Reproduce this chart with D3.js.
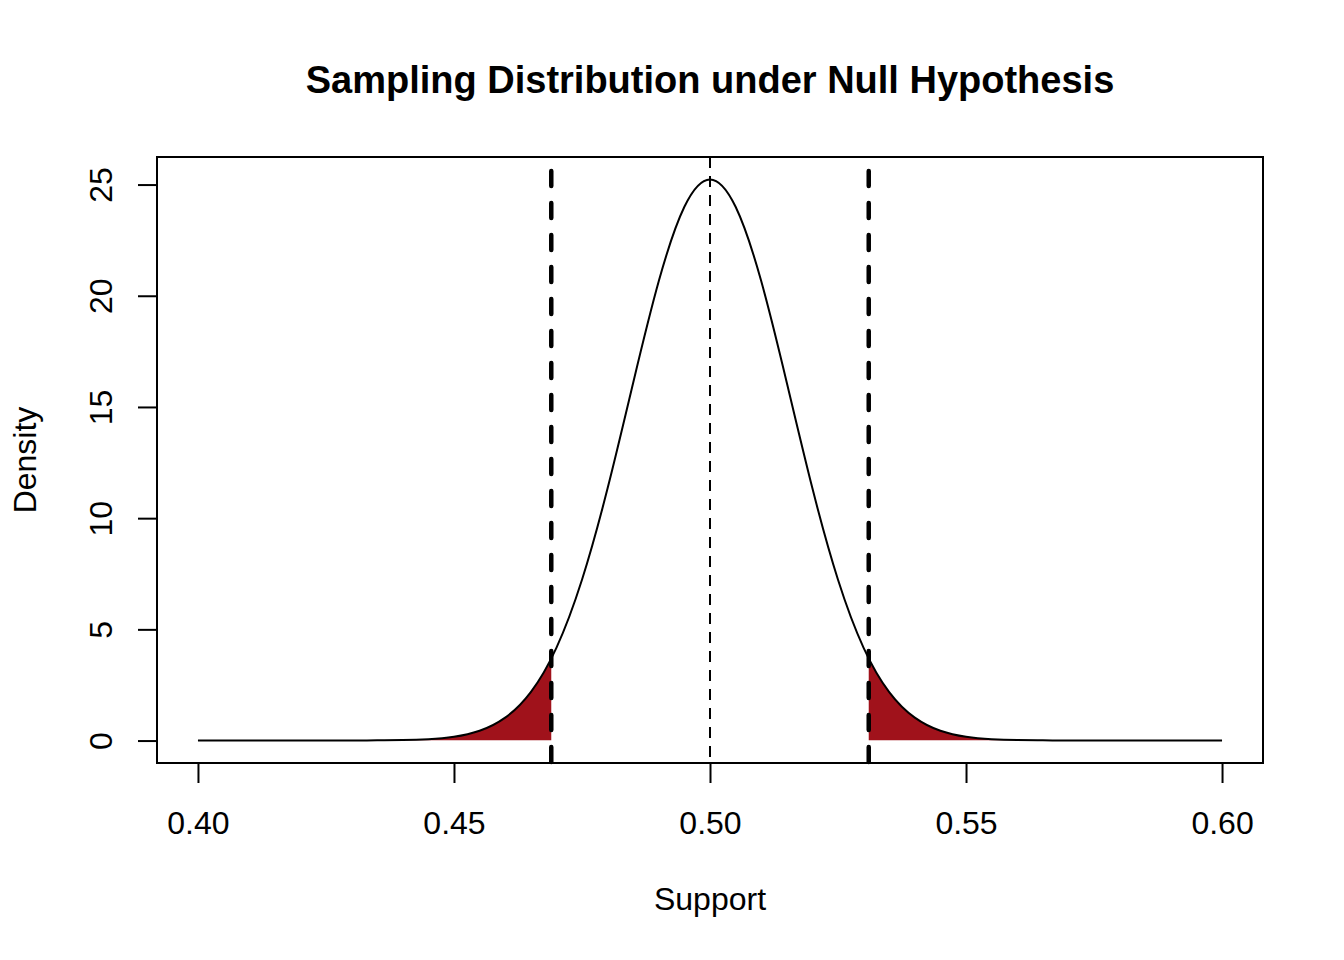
<!DOCTYPE html>
<html>
<head>
<meta charset="utf-8">
<script src="https://cdn.jsdelivr.net/npm/d3@7"></script>
<style>
  html, body { margin: 0; padding: 0; background: #fff; }
  svg { display: block; font-family: "Liberation Sans", Arial, Helvetica, sans-serif; }
</style>
</head>
<body>
<svg id="chart" width="1344" height="960"></svg>
<script>
// ---- Data ----
const supportValues = [0.400,0.405,0.410,0.415,0.420,0.425,0.430,0.435,0.440,0.445,
                       0.450,0.455,0.460,0.465,0.470,0.475,0.480,0.485,0.490,0.495,
                       0.500,0.505,0.510,0.515,0.520,0.525,0.530,0.535,0.540,0.545,
                       0.550,0.555,0.560,0.565,0.570,0.575,0.580,0.585,0.590,0.595,0.600];
const densityValues = [0,0,0,0,0,0,0,0.01,0.02,0.06,
                       0.17,0.44,1.03,2.18,4.17,7.23,11.34,16.09,20.66,24.00,
                       25.23,24.00,20.66,16.09,11.34,7.23,4.17,2.18,1.03,0.44,
                       0.17,0.06,0.02,0.01,0,0,0,0,0,0,0];
const criticalValues = [0.469, 0.531];
const criticalLineTop = 25.7;
const nullMean = 0.5;
const xTicks = [0.40, 0.45, 0.50, 0.55, 0.60];
const xTickLabels = ["0.40", "0.45", "0.50", "0.55", "0.60"];
const yTicks = [0, 5, 10, 15, 20, 25];
const yTickLabels = ["0", "5", "10", "15", "20", "25"];
const titleText = "Sampling Distribution under Null Hypothesis";
const xLabel = "Support";
const yLabel = "Density";

// ---- Layout ----
const svg = d3.select("#chart");
const box = { left: 157, right: 1263, top: 157, bottom: 763 };

const xMin = d3.min(supportValues), xMax = d3.max(supportValues);
const xPad = (xMax - xMin) * 0.04;
const yMin = 0, yMax = d3.max(densityValues);
const yPad = (yMax - yMin) * 0.04;

const x = d3.scaleLinear().domain([xMin - xPad, xMax + xPad]).range([box.left, box.right]);
const y = d3.scaleLinear().domain([yMin - yPad, yMax + yPad]).range([box.bottom, box.top]);

const pts = supportValues.map((s, i) => ({ s, d: densityValues[i] }));
const curve = d3.curveNatural;

// clip paths for the rejection regions
const defs = svg.append("defs");
const cpL = defs.append("clipPath").attr("id", "clipL");
cpL.append("rect").attr("x", x(xMin - xPad)).attr("y", box.top)
  .attr("width", x(criticalValues[0]) - x(xMin - xPad)).attr("height", y(0) - box.top);
const cpR = defs.append("clipPath").attr("id", "clipR");
cpR.append("rect").attr("x", x(criticalValues[1])).attr("y", box.top)
  .attr("width", x(xMax + xPad) - x(criticalValues[1])).attr("height", y(0) - box.top);

const area = d3.area().x(p => x(p.s)).y0(y(0)).y1(p => y(p.d)).curve(curve);
const fillColor = "#A0121B";
svg.append("path").datum(pts).attr("d", area).attr("fill", fillColor).attr("clip-path", "url(#clipL)");
svg.append("path").datum(pts).attr("d", area).attr("fill", fillColor).attr("clip-path", "url(#clipR)");

// density curve
const line = d3.line().x(p => x(p.s)).y(p => y(p.d)).curve(curve);
svg.append("path").datum(pts).attr("d", line)
  .attr("fill", "none").attr("stroke", "#000").attr("stroke-width", 2);

// null mean line (thin dashed, full height)
svg.append("line")
  .attr("x1", x(nullMean)).attr("x2", x(nullMean))
  .attr("y1", box.top).attr("y2", box.bottom)
  .attr("stroke", "#000").attr("stroke-width", 2).attr("stroke-dasharray", "11,8");

// critical value lines (thick dashed)
criticalValues.forEach(c => {
  svg.append("line")
    .attr("x1", x(c)).attr("x2", x(c))
    .attr("y1", y(criticalLineTop) + 2).attr("y2", box.bottom)
    .attr("stroke", "#000").attr("stroke-width", 4.5)
    .attr("stroke-linecap", "round")
    .attr("stroke-dasharray", "15,17");
});

// frame
svg.append("rect")
  .attr("x", box.left).attr("y", box.top)
  .attr("width", box.right - box.left).attr("height", box.bottom - box.top)
  .attr("fill", "none").attr("stroke", "#000").attr("stroke-width", 2);

// x axis
const xAxis = d3.axisBottom(x).tickValues(xTicks)
  .tickFormat((d, i) => xTickLabels[i]).tickSize(20).tickPadding(0);
const gx = svg.append("g").attr("transform", `translate(0,${box.bottom})`).call(xAxis);
gx.select(".domain").remove();
gx.selectAll(".tick line").attr("stroke", "#000").attr("stroke-width", 2);
gx.selectAll(".tick text")
  .attr("y", 71).attr("dy", 0)
  .attr("fill", "#000").style("font-size", "32px")
  .style("font-family", "'Liberation Sans', Arial, Helvetica, sans-serif");

// y axis
const yAxis = d3.axisLeft(y).tickValues(yTicks)
  .tickFormat((d, i) => yTickLabels[i]).tickSize(19).tickPadding(0);
const gy = svg.append("g").attr("transform", `translate(${box.left},0)`).call(yAxis);
gy.select(".domain").remove();
gy.selectAll(".tick line").attr("stroke", "#000").attr("stroke-width", 2);
gy.selectAll(".tick text")
  .attr("transform", "rotate(-90)")
  .attr("x", 0).attr("y", -45).attr("dy", 0)
  .attr("text-anchor", "middle")
  .attr("fill", "#000").style("font-size", "32px")
  .style("font-family", "'Liberation Sans', Arial, Helvetica, sans-serif");

// title
svg.append("text")
  .attr("x", (box.left + box.right) / 2).attr("y", 93)
  .attr("text-anchor", "middle")
  .style("font-size", "38px").style("font-weight", "bold")
  .text(titleText);

// axis labels
svg.append("text")
  .attr("x", (box.left + box.right) / 2).attr("y", 910)
  .attr("text-anchor", "middle").style("font-size", "32px")
  .text(xLabel);
svg.append("text")
  .attr("transform", `translate(36,${(box.top + box.bottom) / 2}) rotate(-90)`)
  .attr("text-anchor", "middle").style("font-size", "32px")
  .text(yLabel);
</script>
</body>
</html>
